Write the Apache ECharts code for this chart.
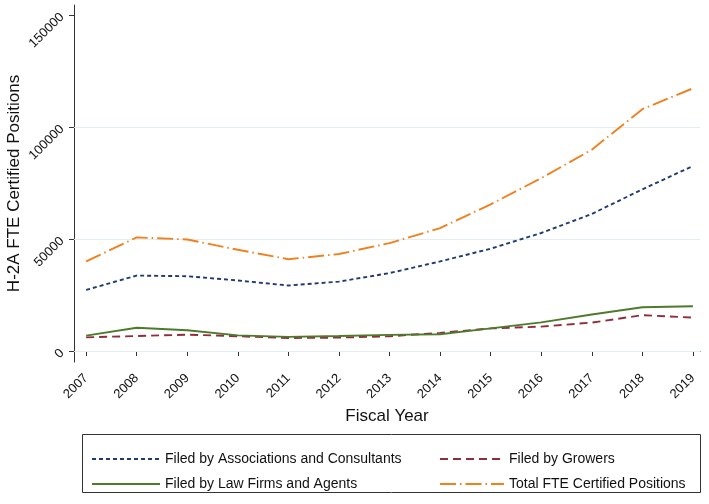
<!DOCTYPE html>
<html><head><meta charset="utf-8">
<script src="https://cdn.jsdelivr.net/npm/echarts@6/dist/echarts.min.js"></script>
<style>html,body{margin:0;padding:0;background:#fff}#c{width:709px;height:504px}</style>
</head><body><div id="c"></div>
<script>
const years = [2007,2008,2009,2010,2011,2012,2013,2014,2015,2016,2017,2018,2019];
const assocConsult = [27300,33700,33400,31500,29250,31000,34800,40000,45700,52700,61200,72200,82600];
const growers = [6100,6700,7300,6600,5800,6000,6600,8100,10100,10900,12700,16000,14900];
const lawFirms = [6900,10400,9250,7000,6300,6700,7200,7500,10100,12800,16300,19550,20000];
const totalFTE = [40000,50750,49800,45200,41000,43300,48200,54900,65500,77200,89900,108000,117300];
const yTicks = [0,50000,100000,150000];
const gridVals = [0,50000,100000];
const seriesNames = ['Filed by Associations and Consultants','Filed by Growers','Filed by Law Firms and Agents','Total FTE Certified Positions'];

const pair = arr => years.map((y,i)=>[y,arr[i]]);
const font = 'Liberation Sans, Arial, sans-serif';
const chart = echarts.init(document.getElementById('c'), null, {renderer:'canvas'});
const mk = (name, arr, color, type, extra) => Object.assign({
  name, type:'line', data: pair(arr), symbol:'none', showSymbol:false,
  lineStyle:{color, width:1.9, type}, itemStyle:{color}, z:3, animation:false
}, extra||{});
const legText = {fontFamily:font,fontSize:14,color:'#111'};
chart.setOption({
  animation:false,
  grid:{left:74,right:9,top:5,bottom:142,containLabel:false,outerBoundsMode:'none'},
  xAxis:{type:'value', min:2006.76, max:2019.14,
    name:'Fiscal Year', nameLocation:'middle', nameGap:44,
    nameTextStyle:{fontFamily:font,fontSize:17,color:'#111'},
    axisLine:{show:true,lineStyle:{color:'#333',width:1}},
    axisTick:{show:true,customValues:years,length:5,lineStyle:{color:'#333'}},
    axisLabel:{customValues:years,rotate:45,fontFamily:font,fontSize:13,color:'#111',margin:14,formatter:v=>String(v)},
    splitLine:{show:false}},
  yAxis:{type:'value', min:-4900, max:154500,
    name:'H-2A FTE Certified Positions', nameLocation:'middle', nameGap:51, nameMoveOverlap:false,
    nameTextStyle:{fontFamily:font,fontSize:17,color:'#111'},
    axisLine:{show:true,lineStyle:{color:'#333',width:1}},
    axisTick:{show:true,customValues:yTicks,length:5,lineStyle:{color:'#333'}},
    axisLabel:{customValues:yTicks,rotate:45,fontFamily:font,fontSize:13,color:'#111',margin:12,formatter:v=>String(v)},
    splitLine:{show:false}},
  legend:[
    {orient:'vertical',left:86,top:447,itemWidth:68,itemHeight:12,itemGap:11,
     itemStyle:{opacity:0},
     data:[seriesNames[0],seriesNames[2]],textStyle:legText},
    {orient:'vertical',left:434,top:447,itemWidth:64,itemHeight:12,itemGap:11,
     itemStyle:{opacity:0},
     data:[seriesNames[1],seriesNames[3]],textStyle:legText}
  ],
  graphic:[{type:'rect',shape:{x:82.5,y:434.5,width:618,height:58},style:{fill:'none',stroke:'#333',lineWidth:1},silent:true}],
  series:[
    mk(seriesNames[0], assocConsult, '#1f3b70', [4,3], {
      markLine:{silent:true,symbol:'none',label:{show:false},animation:false,
        lineStyle:{color:'#e2eef1',width:1,type:'solid'},
        data: gridVals.map(v=>({yAxis:v})), z:1}}),
    mk(seriesNames[1], growers, '#8f2d3a', [8,5]),
    mk(seriesNames[2], lawFirms, '#4e7a2c', 'solid'),
    mk(seriesNames[3], totalFTE, '#f0801e', [16,4,1.5,4])
  ]
});
</script></body></html>
